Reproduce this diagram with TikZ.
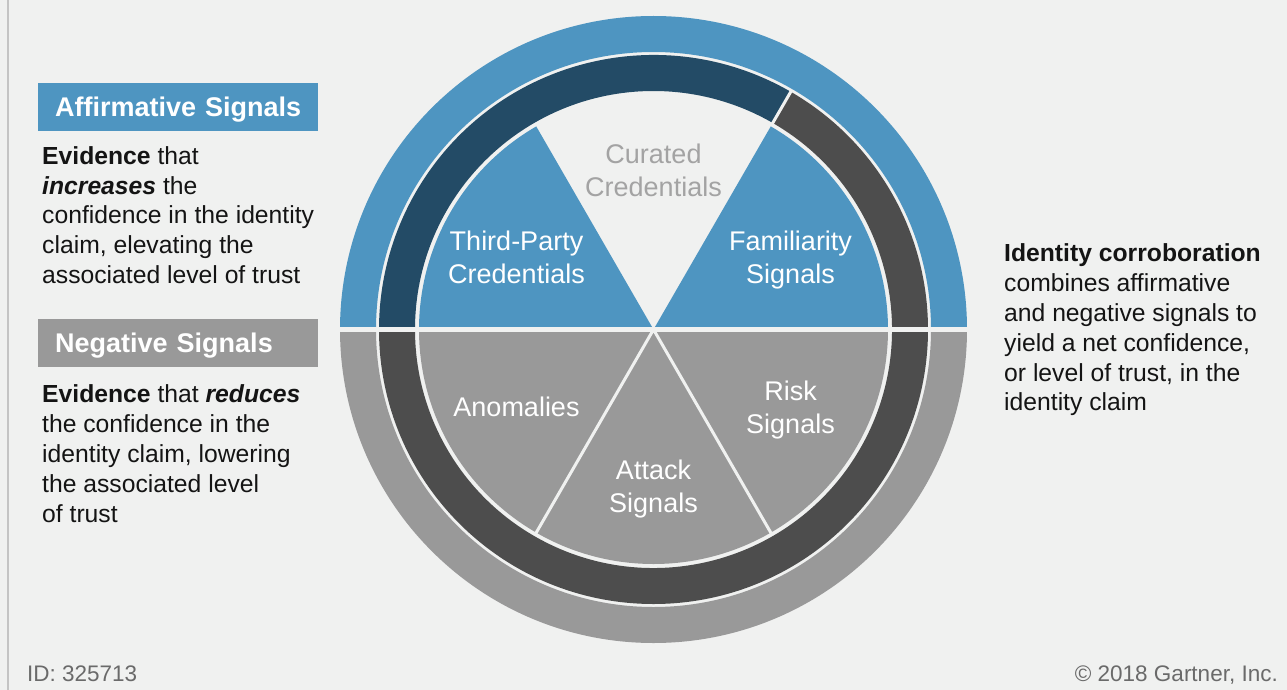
\documentclass[tikz,border=0pt]{standalone}
\usepackage{fontspec}
\setmainfont{Liberation Sans}
\begin{document}
\begin{tikzpicture}[x=1pt,y=1pt,
  sectorlabel/.style={inner sep=0pt, align=center, text=white,
    font=\fontsize{27}{33.3}\selectfont},
  headbox/.style={anchor=north west, inner sep=0pt,
    text width=280pt, minimum height=48pt, align=left, text=white,
    text height=22pt, text depth=3pt,
    font=\fontsize{27}{30}\selectfont\bfseries},
  bodytext/.style={anchor=north west, inner sep=0pt, align=left,
    text=textdark, font=\fontsize{24.7}{29.8}\selectfont},
  footer/.style={inner sep=0pt, text=footgray,
    font=\fontsize{22.5}{26}\selectfont},
  gapline/.style={draw=bgc, line cap=butt}]
\definecolor{bgc}{HTML}{F0F1F0}
\definecolor{sigblue}{HTML}{4E95C1}
\definecolor{sigdarkblue}{HTML}{234B66}
\definecolor{sigdarkgray}{HTML}{4D4D4D}
\definecolor{siggray}{HTML}{999999}
\definecolor{curatedgray}{HTML}{A3A3A3}
\definecolor{textdark}{HTML}{141414}
\definecolor{footgray}{HTML}{6A6A6A}
\definecolor{edgegray}{HTML}{C4C4C4}

\useasboundingbox (0,0) rectangle (1287,-690);
\fill[bgc] (0,0) rectangle (1287,-690);
\draw[edgegray, line width=2pt] (7.5,0) -- (7.5,-690);

% ---- the signal wheel ----
\begin{scope}[shift={(653.5,-329.5)}]
  % outer ring: affirmative (top) and negative (bottom)
  \fill[sigblue] (0:313.5) arc[start angle=0,end angle=180,radius=313.5]
    -- (180:277.5) arc[start angle=180,end angle=0,radius=277.5] -- cycle;
  \fill[siggray] (180:313.5) arc[start angle=180,end angle=360,radius=313.5]
    -- (360:277.5) arc[start angle=360,end angle=180,radius=277.5] -- cycle;
  % middle ring
  \fill[sigdarkblue] (60:274.5) arc[start angle=60,end angle=180,radius=274.5]
    -- (180:238.5) arc[start angle=180,end angle=60,radius=238.5] -- cycle;
  \fill[sigdarkgray] (180:274.5) arc[start angle=180,end angle=420,radius=274.5]
    -- (420:238.5) arc[start angle=420,end angle=180,radius=238.5] -- cycle;
  % inner pie
  \fill[sigblue] (0,0) -- (120:234.5) arc[start angle=120,end angle=180,radius=234.5] -- cycle;
  \fill[sigblue] (0,0) -- (0:234.5) arc[start angle=0,end angle=60,radius=234.5] -- cycle;
  \fill[siggray] (0,0) -- (180:234.5) arc[start angle=180,end angle=360,radius=234.5] -- cycle;
  % separating gaps
  \draw[gapline, line width=4.5pt] (-316,0) -- (316,0);
  \draw[gapline, line width=3pt] (0,0) -- (240:236) (0,0) -- (300:236);
  \draw[gapline, line width=3pt] (60:237) -- (60:276);
\end{scope}

% ---- sector labels ----
\node[sectorlabel, anchor=north, text=curatedgray] (curated) at (653.5,-143.6) {Curated\\Credentials};
\node[sectorlabel, anchor=north] (thirdparty) at (516.5,-230.3) {Third-Party\\Credentials};
\node[sectorlabel, anchor=north] (familiarity) at (790.5,-230.3) {Familiarity\\Signals};
\node[sectorlabel, anchor=north] (anomalies) at (516.5,-396.3) {Anomalies};
\node[sectorlabel, anchor=north] (risk) at (790.5,-380.3) {Risk\\Signals};
\node[sectorlabel, anchor=north] (attack) at (653.5,-459.6) {Attack\\Signals};

% ---- left column ----
\node[headbox, fill=sigblue] (affhead) at (38,-83) {\hspace*{17pt}\mbox{Affirmative Signals}};
\node[bodytext] (affbody) at (42,-146.1)
  {\textbf{Evidence} that\\\textbf{\itshape increases} the\\confidence in the identity\\claim, elevating the\\associated level of trust};
\node[headbox, fill=siggray] (neghead) at (38,-319) {\hspace*{17pt}\mbox{Negative Signals}};
\node[bodytext] (negbody) at (42,-384.8)
  {\textbf{Evidence} that \textbf{\itshape reduces}\\the confidence in the\\identity claim, lowering\\the associated level\\of trust};

% ---- right column ----
\node[bodytext] (corrob) at (1004,-243.8)
  {\textbf{Identity corroboration}\\combines affirmative\\and negative signals to\\yield a net confidence,\\or level of trust, in the\\identity claim};

% ---- footer ----
\node[footer, anchor=base west] (docid) at (27,-681) {ID: 325713};
\node[footer, anchor=base east] (copyright) at (1278,-681) {© 2018 Gartner, Inc.};
\end{tikzpicture}
\end{document}
